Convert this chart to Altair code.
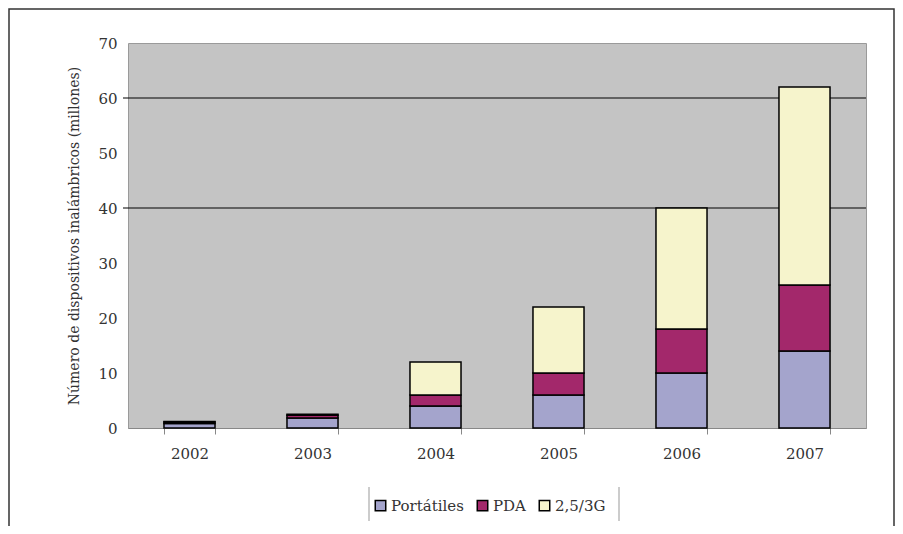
import altair as alt
import pandas as pd

years = ["2002", "2003", "2004", "2005", "2006", "2007"]
series = ["Portátiles", "PDA", "2,5/3G"]
portatiles = [0.8, 1.8, 4, 6, 10, 14]
pda = [0.3, 0.5, 2, 4, 8, 12]
g3 = [0.1, 0.2, 6, 12, 22, 36]
colors = ["#a4a4cc", "#a3286b", "#f6f4cc"]
grid_values = [40, 60]
y_ticks = [0, 10, 20, 30, 40, 50, 60, 70]
y_title = "Número de dispositivos inalámbricos (millones)"

rows = []
for i, y in enumerate(years):
    for k, (name, vals) in enumerate(zip(series, [portatiles, pda, g3])):
        rows.append({"year": y, "series": name, "value": vals[i], "ord": k})
df = pd.DataFrame(rows)

FONT = "DejaVu Serif"
W, H = 738, 385

y_axis = alt.Axis(
    title=y_title,
    values=y_ticks,
    domain=False,
    ticks=False,
    grid=False,
    labelPadding=11,
    labelFont=FONT,
    labelFontSize=15,
    labelColor="#333",
    titleFont=FONT,
    titleFontSize=14,
    titleFontWeight="normal",
    titleColor="#333",
    titlePadding=16,
)
y_scale = alt.Scale(domain=[0, 70], nice=False)

grid = alt.Chart(pd.DataFrame({"v": grid_values})).mark_rule(
    color="black", strokeWidth=1.2
).encode(
    y=alt.Y("v:Q", scale=y_scale, axis=y_axis),
    x=alt.value(-5),
    x2=alt.value(W),
)

bars = alt.Chart(df).mark_bar(stroke="black", strokeWidth=1.5).encode(
    x=alt.X(
        "year:N",
        sort=years,
        scale=alt.Scale(paddingInner=0.585, paddingOuter=0.2925),
        axis=alt.Axis(
            title=None,
            labelAngle=0,
            tickBand="extent",
            tickSize=6,
            tickColor="#888",
            domainColor="#888",
            labelPadding=12,
            labelFont=FONT,
            labelFontSize=15,
            labelColor="#333",
        ),
    ),
    y=alt.Y("value:Q", stack="zero", scale=y_scale, axis=y_axis),
    color=alt.Color(
        "series:N",
        scale=alt.Scale(domain=series, range=colors),
        legend=alt.Legend(
            title=None,
            orient="none",
            direction="horizontal",
            legendX=245,
            legendY=455,
            symbolType="square",
            symbolSize=110,
            symbolStrokeColor="black",
            symbolStrokeWidth=1.5,
            symbolOpacity=1,
            labelFont=FONT,
            labelFontSize=15,
            labelColor="#333",
            labelOffset=3,
            columnPadding=10,
        ),
    ),
    order=alt.Order("ord:Q", sort="ascending"),
)

one = pd.DataFrame({"a": [0]})
frame = alt.Chart(one).mark_rect(fillOpacity=0, stroke="#333", strokeWidth=1.5).encode(
    x=alt.value(-119), x2=alt.value(766), y=alt.value(-34), y2=alt.value(530)
)
sep1 = alt.Chart(one).mark_rule(color="#999", strokeWidth=1).encode(
    x=alt.value(241), y=alt.value(444), y2=alt.value(478)
)
sep2 = alt.Chart(one).mark_rule(color="#999", strokeWidth=1).encode(
    x=alt.value(491), y=alt.value(444), y2=alt.value(478)
)

chart = alt.layer(grid, bars, frame, sep1, sep2).properties(
    width=W,
    height=H,
    autosize=alt.AutoSizeParams(type="none"),
    padding={"left": 120, "top": 35, "right": 29, "bottom": 98},
    background="white",
).configure_view(
    fill="#c4c4c4", stroke="#9a9a9a", strokeWidth=1
)

chart.save("out.html", embed_options={"renderer": "svg", "actions": False})
